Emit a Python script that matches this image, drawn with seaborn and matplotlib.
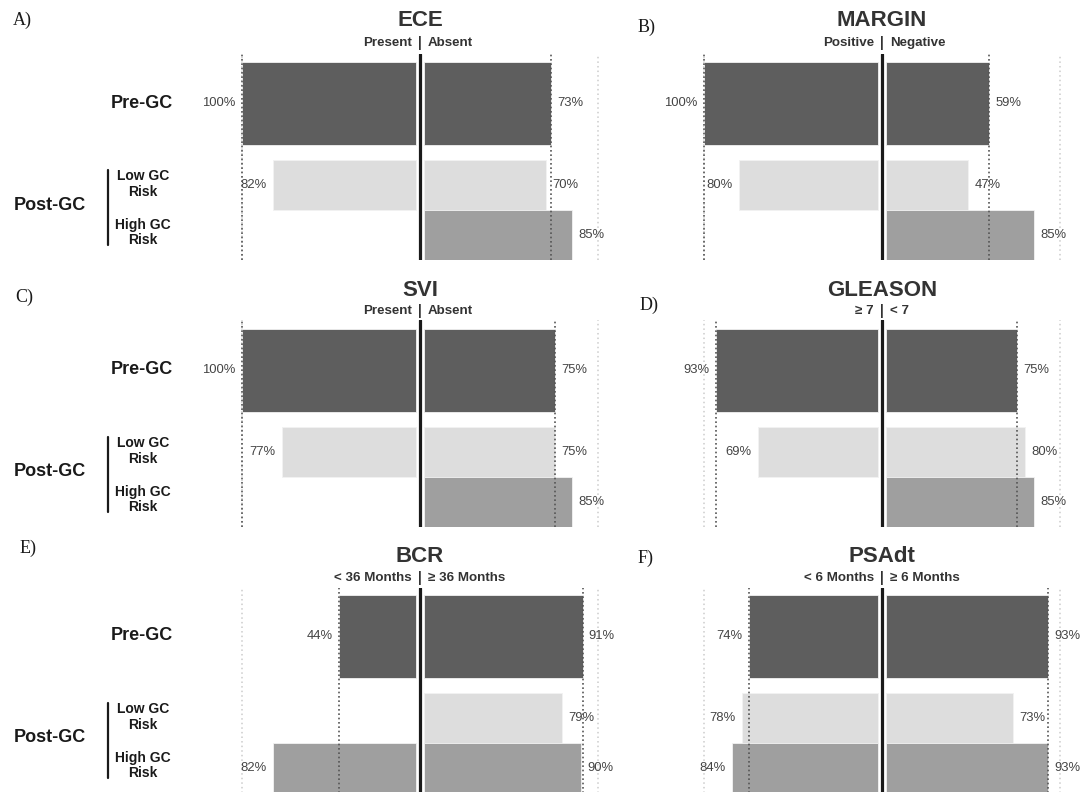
import numpy as np
import pandas as pd
import matplotlib.pyplot as plt
from matplotlib.transforms import blended_transform_factory
import seaborn as sns

# ---------- DATA ----------
titles = ["ECE", "MARGIN", "SVI", "GLEASON", "BCR", "PSAdt"]
letters = ["A)", "B)", "C)", "D)", "E)", "F)"]
left_names = ["Present", "Positive", "Present", "≥ 7", "< 36 Months", "< 6 Months"]
right_names = ["Absent", "Negative", "Absent", "< 7", "≥ 36 Months", "≥ 6 Months"]

# percent values, left group / right group (None = no bar)
pre_left = [100, 100, 100, 93, 44, 74]
pre_right = [73, 59, 75, 75, 91, 93]
low_left = [82, 80, 77, 69, None, 78]
low_right = [70, 47, 75, 80, 79, 73]
high_left = [None, None, None, None, 82, 84]
high_right = [85, 85, 85, 85, 90, 93]

# ---------- STYLE ----------
sns.set_theme(style="white")
plt.rcParams["font.family"] = ["Liberation Sans", "DejaVu Sans"]

W, H = 1081, 792
PX = 1.74          # pixels per percent
GAP = 2.4          # half gap around centre line (percent units)
XL = 110
col_center = [420, 882]
row_bottom = [260, 527, 793]
row_top = [54, 320, 588]
title_y = [20, 290, 557]
sub_y = [43, 311, 578]
letter_pos = [(13, 20), (638, 27), (15, 297), (640, 305), (20, 548), (638, 558)]

dark, light, mid = "#5e5e5e", "#dddddd", "#9f9f9f"
series = [
    (pre_left, pre_right, 3.14, 1.66, dark),
    (low_left, low_right, 1.5, 1.0, light),
    (high_left, high_right, 0.5, 1.0, mid),
]

fig = plt.figure(figsize=(W / 100, H / 100), dpi=100)
fig.patch.set_facecolor("white")

for i in range(6):
    r, c = i // 2, i % 2
    cx = col_center[c]
    bot, top = row_bottom[r], row_top[r]
    ax = fig.add_axes([(cx - XL * PX) / W, (H - bot) / H, 2 * XL * PX / W, (bot - top) / H])

    for lvals, rvals, ypos, hgt, col in series:
        for sign, vals in ((-1, lvals), (1, rvals)):
            v = vals[i]
            if v is None:
                continue
            d = pd.DataFrame({"val": [sign * v], "pos": [ypos]})
            sns.barplot(data=d, x="val", y="pos", orient="y", native_scale=True,
                        width=hgt, color=col, saturation=1, errorbar=None,
                        left=sign * GAP, edgecolor="#f2f2f2", linewidth=0.6, ax=ax)
            ax.annotate(f"{v}%", (sign * (GAP + v), ypos), xytext=(sign * 4.5, 0),
                        textcoords="offset points", ha="left" if sign > 0 else "right",
                        va="center", fontsize=9.4, color="#444444")

    # reference lines
    for sign in (-1, 1):
        ax.axvline(sign * (GAP + 100), color="#cccccc", ls=(0, (1, 2)), lw=1.1, zorder=0)
    ax.axvline(-(GAP + pre_left[i]), color="#555555", ls=(0, (1, 1.6)), lw=1.2, zorder=3)
    ax.axvline(GAP + pre_right[i], color="#555555", ls=(0, (1, 1.6)), lw=1.2, zorder=3)
    ax.axvline(0, color="#1a1a1a", lw=2.3, zorder=4)

    ax.set_xlim(-XL, XL)
    ax.set_ylim(0, (bot - top) / 50)
    ax.set_xlabel("")
    ax.set_ylabel("")
    ax.axis("off")

    # titles
    fig.text(cx / W, 1 - title_y[r] / H, titles[i], ha="center", va="center",
             fontsize=16, fontweight="bold", color="#333333")
    sy = 1 - sub_y[r] / H
    fig.text((cx - 8) / W, sy, left_names[i], ha="right", va="center",
             fontsize=9.6, fontweight="bold", color="#333333")
    fig.text(cx / W, sy, "|", ha="center", va="center", fontsize=10,
             fontweight="bold", color="#333333")
    fig.text((cx + 8) / W, sy, right_names[i], ha="left", va="center",
             fontsize=9.6, fontweight="bold", color="#333333")

    lx, ly = letter_pos[i]
    fig.text(lx / W, 1 - ly / H, letters[i], ha="left", va="center", fontsize=13,
             family="Liberation Serif", color="#1a1a1a")

    # row labels on left column
    if c == 0:
        tr = blended_transform_factory(fig.transFigure, ax.transData)
        fig.text(142 / W, 3.14, "Pre-GC", transform=tr, ha="center", va="center",
                 fontsize=13, fontweight="bold", color="#1a1a1a")
        fig.text(50 / W, 1.1, "Post-GC", transform=tr, ha="center", va="center",
                 fontsize=13, fontweight="bold", color="#1a1a1a")
        fig.text(143 / W, 1.52, "Low GC\nRisk", transform=tr, ha="center", va="center",
                 fontsize=10, fontweight="bold", color="#1a1a1a", linespacing=1.1)
        fig.text(143 / W, 0.55, "High GC\nRisk", transform=tr, ha="center", va="center",
                 fontsize=10, fontweight="bold", color="#1a1a1a", linespacing=1.1)
        ax.plot([108 / W, 108 / W], [0.3, 1.8], transform=tr, color="#1a1a1a",
                lw=1.6, clip_on=False)

fig.savefig("out.png", dpi=100)
